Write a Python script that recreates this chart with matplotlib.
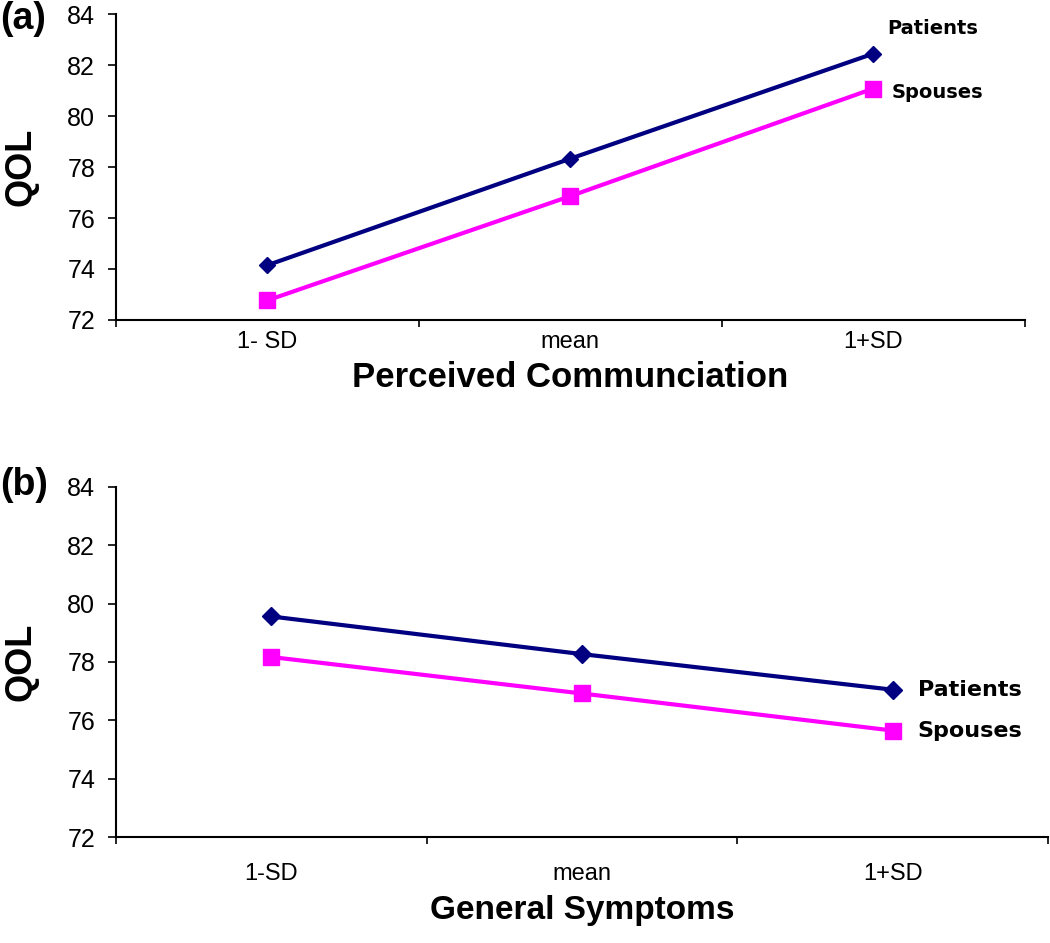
import matplotlib
matplotlib.use("Agg")
import matplotlib.pyplot as plt

categories_a = ["1- SD", "mean", "1+SD"]
categories_b = ["1-SD", "mean", "1+SD"]

patients_a = [74.15, 78.33, 82.45]
spouses_a = [72.77, 76.86, 81.08]

patients_b = [79.56, 78.27, 77.05]
spouses_b = [78.17, 76.92, 75.65]

yticks = [72, 74, 76, 78, 80, 82, 84]

NAVY = "#000080"
MAGENTA = "#ff00ff"

plt.rcParams["font.family"] = ["Liberation Sans", "DejaVu Sans"]

fig = plt.figure(figsize=(10.5, 9.43), dpi=100)
ax_a = fig.add_axes([0.1105, 0.6607, 0.8655, 0.3243])
ax_b = fig.add_axes([0.1105, 0.1124, 0.8875, 0.3712])


def style_axis(ax, cats, xlabel, xpad, xlabel_size, labelpad, ylab_x):
    n = len(cats)
    ax.set_xlim(-0.5, n - 0.5)
    ax.set_ylim(72, 84)
    ax.set_yticks(yticks)
    ax.set_yticklabels([str(t) for t in yticks], fontsize=18)
    ax.set_xticks(range(n))
    ax.set_xticklabels(cats, fontsize=17)
    ax.tick_params(axis="x", length=0, pad=xpad)
    ax.set_xticks([i - 0.5 for i in range(n + 1)], minor=True)
    ax.tick_params(axis="x", which="minor", length=5, direction="out", width=1.2)
    ax.tick_params(axis="y", length=6, direction="out", width=1.2, pad=9)
    for s in ["top", "right"]:
        ax.spines[s].set_visible(False)
    for s in ["left", "bottom"]:
        ax.spines[s].set_linewidth(1.5)
    ax.set_ylabel("QOL", fontsize=26, fontweight="bold")
    ax.yaxis.set_label_coords(ylab_x, 0.5)
    ax.set_xlabel(xlabel, fontsize=xlabel_size, fontweight="bold", labelpad=labelpad)


# panel (a)
x = range(len(categories_a))
ax_a.plot(x, patients_a, color=NAVY, lw=3, marker="D", ms=8, clip_on=False)
ax_a.plot(x, spouses_a, color=MAGENTA, lw=3, marker="s", ms=11, clip_on=False)
style_axis(ax_a, categories_a, "Perceived Communciation", 8, 25, 6, -0.085)
ax_a.annotate("Patients", (2, patients_a[2]), xytext=(10, 18), textcoords="offset points",
              fontsize=14, fontweight="bold", family="DejaVu Sans", va="center")
ax_a.annotate("Spouses", (2, spouses_a[2]), xytext=(13, -3), textcoords="offset points",
              fontsize=14, fontweight="bold", family="DejaVu Sans", va="center")
fig.text(0.0, 0.98, "(a)", fontsize=27, fontweight="bold", va="center", ha="left")

# panel (b)
x = range(len(categories_b))
ax_b.plot(x, patients_b, color=NAVY, lw=3, marker="D", ms=9, clip_on=False)
ax_b.plot(x, spouses_b, color=MAGENTA, lw=3, marker="s", ms=12, clip_on=False)
style_axis(ax_b, categories_b, "General Symptoms", 19, 24, 7, -0.083)
ax_b.annotate("Patients", (2, patients_b[2]), xytext=(18, 0), textcoords="offset points",
              fontsize=16, fontweight="bold", family="DejaVu Sans", va="center")
ax_b.annotate("Spouses", (2, spouses_b[2]), xytext=(18, 0), textcoords="offset points",
              fontsize=16, fontweight="bold", family="DejaVu Sans", va="center")
fig.text(0.0, 0.486, "(b)", fontsize=27, fontweight="bold", va="center", ha="left")

fig.savefig("out.png", dpi=100)
